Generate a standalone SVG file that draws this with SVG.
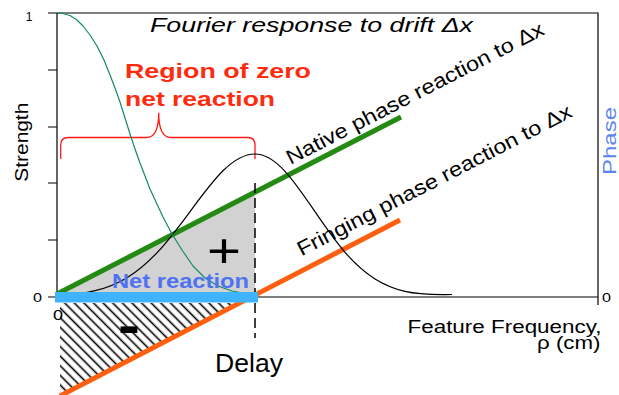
<svg xmlns="http://www.w3.org/2000/svg" width="619" height="395" viewBox="0 0 619 395">
<style>
text{font-family:"Liberation Sans",Arial,Helvetica,sans-serif;}
.ax{stroke:#000;stroke-width:1.2;fill:none;}
.lbl{font-size:20.5px;fill:#000;}
.num{font-size:12px;fill:#000;}
.red{font-size:21px;font-weight:bold;fill:#ff2b0f;}
</style>
<defs>
<pattern id="hatch" patternUnits="userSpaceOnUse" width="6.8" height="6.8" patternTransform="rotate(-45)">
<line x1="1.5" y1="0" x2="1.5" y2="6.8" stroke="#000" stroke-width="1.6"/>
</pattern>
</defs>
<rect width="619" height="395" fill="#fff"/>
<g id="axes">
<path class="ax" d="M48,13 H598 V305 M48,297 H598 M57,13 V297 M48,70 H57 M48,127 H57 M48,183 H57 M48,240 H57"/>
<text class="num" x="32.5" y="20.5" text-anchor="end">1</text>
<text class="num" x="42" y="301.8" text-anchor="end" textLength="9" lengthAdjust="spacingAndGlyphs">0</text>
<text class="num" x="611" y="301.8" text-anchor="end" textLength="9" lengthAdjust="spacingAndGlyphs">0</text>
<text x="58" y="319.5" text-anchor="middle" style="font-size:14.5px" textLength="10" lengthAdjust="spacingAndGlyphs">0</text>
<text transform="translate(28,181.7) rotate(-90)" style="font-size:17.5px" textLength="79" lengthAdjust="spacingAndGlyphs">Strength</text>
<text transform="translate(615.5,175) rotate(-90)" style="font-size:18px;fill:#5a85f2" textLength="68" lengthAdjust="spacingAndGlyphs">Phase</text>
<text x="601.5" y="333" text-anchor="end" style="font-size:17.5px" textLength="194" lengthAdjust="spacingAndGlyphs">Feature Frequency,</text>
<text x="600.5" y="348.5" text-anchor="end" style="font-size:17.5px" textLength="63.5" lengthAdjust="spacingAndGlyphs">ρ (cm)</text>
<text x="215" y="371.5" style="font-size:26px" textLength="68" lengthAdjust="spacingAndGlyphs">Delay</text>
</g>
<g id="title">
<text x="150" y="32" style="font-size:21px;font-style:italic" textLength="323" lengthAdjust="spacingAndGlyphs">Fourier response to drift Δx</text>
</g>
<g id="positive-region">
<polygon points="60,292 255,192 255,292" fill="#d2d2d2"/>
<text x="224" y="267" text-anchor="middle" style="font-size:48px" textLength="34" lengthAdjust="spacingAndGlyphs">+</text>
</g>
<g id="negative-region">
<polygon points="60,303 239.5,303 60,395.9" fill="url(#hatch)"/>
</g>
<g id="connectors">
<line id="native-line" x1="57" y1="294" x2="401" y2="117" stroke="#238a12" stroke-width="5"/>
<line id="fringing-line" x1="60" y1="395.9" x2="400" y2="220" stroke="#ff6010" stroke-width="5"/>
<line id="delay-line" x1="255" y1="183" x2="255" y2="338" stroke="#000" stroke-width="1.5" stroke-dasharray="10,5"/>
<path id="zero-bracket" d="M60.7,159 V145 Q60.7,137.5 68,137.5 H146.5 Q158.7,137.5 158.7,112.7 Q158.7,137.5 171,137.5 H248 Q255,137.5 255,145 V159" fill="none" stroke="#ff1a1a" stroke-width="1.3"/>
<path id="bell-curve" d="M60,295.6 C71.67,294.83 83.33,293.56 95,290.7 C105.67,288.09 116.33,284.1 127,277.65 C137.67,271.2 148.33,262.21 159,250.6 C169.67,238.99 180.33,224.75 191,210.3 C201.67,195.85 212.33,181.32 223,170.8 C233.67,160.28 244.33,154 255,154 C265,154 275,160.47 285,171.3 C295,182.13 305,197 315,211.7 C325,226.4 335,240.74 345,252.3 C355,263.86 365,272.67 375,278.9 C385,285.13 395,288.97 405,291.4 C420.67,295.21 436.33,294.5 452,294.5" fill="none" stroke="#000" stroke-width="1.2"/>
<polyline id="decay-curve" points="57,13 63,13.5 70,15.5 77,20 83,26 90,35 97,46 104,60 110,75 115,88 120,102 125,118 130,134 135,149 140,163 145,176 150,189 156,202 163,217 172,234 182,250 193,266 205,278 218,286 232,291 245,293.5 258,294.5" fill="none" stroke="#128a6a" stroke-width="1.2" stroke-linejoin="round"/>
<rect id="net-bar" x="55" y="292" width="203" height="10.5" fill="#40b3ff"/>
</g>
<g id="labels">
<text class="red" x="125" y="77.5" textLength="186" lengthAdjust="spacingAndGlyphs">Region of zero</text>
<text class="red" x="125" y="106" textLength="150" lengthAdjust="spacingAndGlyphs">net reaction</text>
<text x="112" y="287.5" style="font-size:20.5px;font-weight:bold;fill:#4f72f3" textLength="137" lengthAdjust="spacingAndGlyphs">Net reaction</text>
<text x="118" y="344" style="font-size:56px;font-weight:bold" textLength="22" lengthAdjust="spacingAndGlyphs">-</text>
<text class="lbl" transform="translate(290.5,165) rotate(-27.2)" textLength="287" lengthAdjust="spacingAndGlyphs">Native phase reaction to Δx</text>
<text class="lbl" transform="translate(301.5,256.5) rotate(-27.3)" textLength="306" lengthAdjust="spacingAndGlyphs">Fringing phase reaction to Δx</text>
</g>
</svg>
